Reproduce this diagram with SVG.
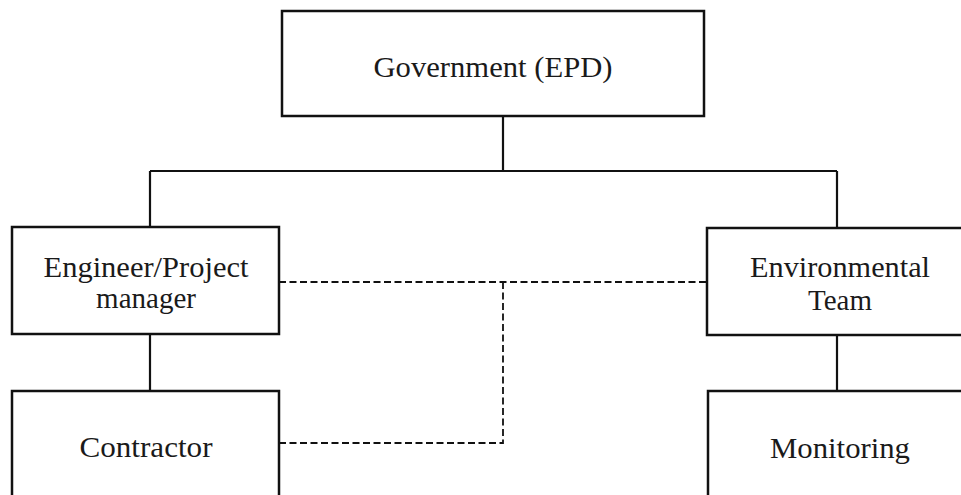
<svg xmlns="http://www.w3.org/2000/svg" width="961" height="495" viewBox="0 0 961 495">
  <style>
    .box { fill: #ffffff; stroke: #111111; stroke-width: 2.5; }
    .solid { fill: none; stroke: #111111; stroke-width: 2.2; }
    .dash { fill: none; stroke: #111111; stroke-width: 1.8; stroke-dasharray: 7 3.5; }
    .lbl { font-family: "Liberation Serif", "Times New Roman", serif; font-size: 29px; fill: #1a1a1a; text-anchor: middle; }
  </style>
  <rect width="961" height="495" fill="#ffffff"/>
  <g id="connectors">
    <path class="solid" d="M503,116 V171 M150,171 H837 M150,171 V227 M837,171 V228 M150,334 V391 M837,335 V391"/>
    <path class="dash" d="M279,282 H707 M503,282 V443 H279"/>
  </g>
  <g id="government">
    <rect class="box" x="282" y="11" width="422" height="105"/>
    <text class="lbl" x="493" y="77" textLength="239" lengthAdjust="spacingAndGlyphs">Government (EPD)</text>
  </g>
  <g id="engineer">
    <rect class="box" x="12" y="227" width="267" height="107"/>
    <text class="lbl" x="146" y="277" textLength="205" lengthAdjust="spacingAndGlyphs">Engineer/Project</text>
    <text class="lbl" x="146" y="308">manager</text>
  </g>
  <g id="environmental">
    <rect class="box" x="707" y="228" width="270" height="107"/>
    <text class="lbl" x="840" y="277" textLength="180" lengthAdjust="spacingAndGlyphs">Environmental</text>
    <text class="lbl" x="840" y="310">Team</text>
  </g>
  <g id="contractor">
    <rect class="box" x="12" y="391" width="267" height="130"/>
    <text class="lbl" x="146" y="457" textLength="133" lengthAdjust="spacingAndGlyphs">Contractor</text>
  </g>
  <g id="monitoring">
    <rect class="box" x="708" y="391" width="270" height="130"/>
    <text class="lbl" x="840" y="458" textLength="140" lengthAdjust="spacingAndGlyphs">Monitoring</text>
  </g>
</svg>
